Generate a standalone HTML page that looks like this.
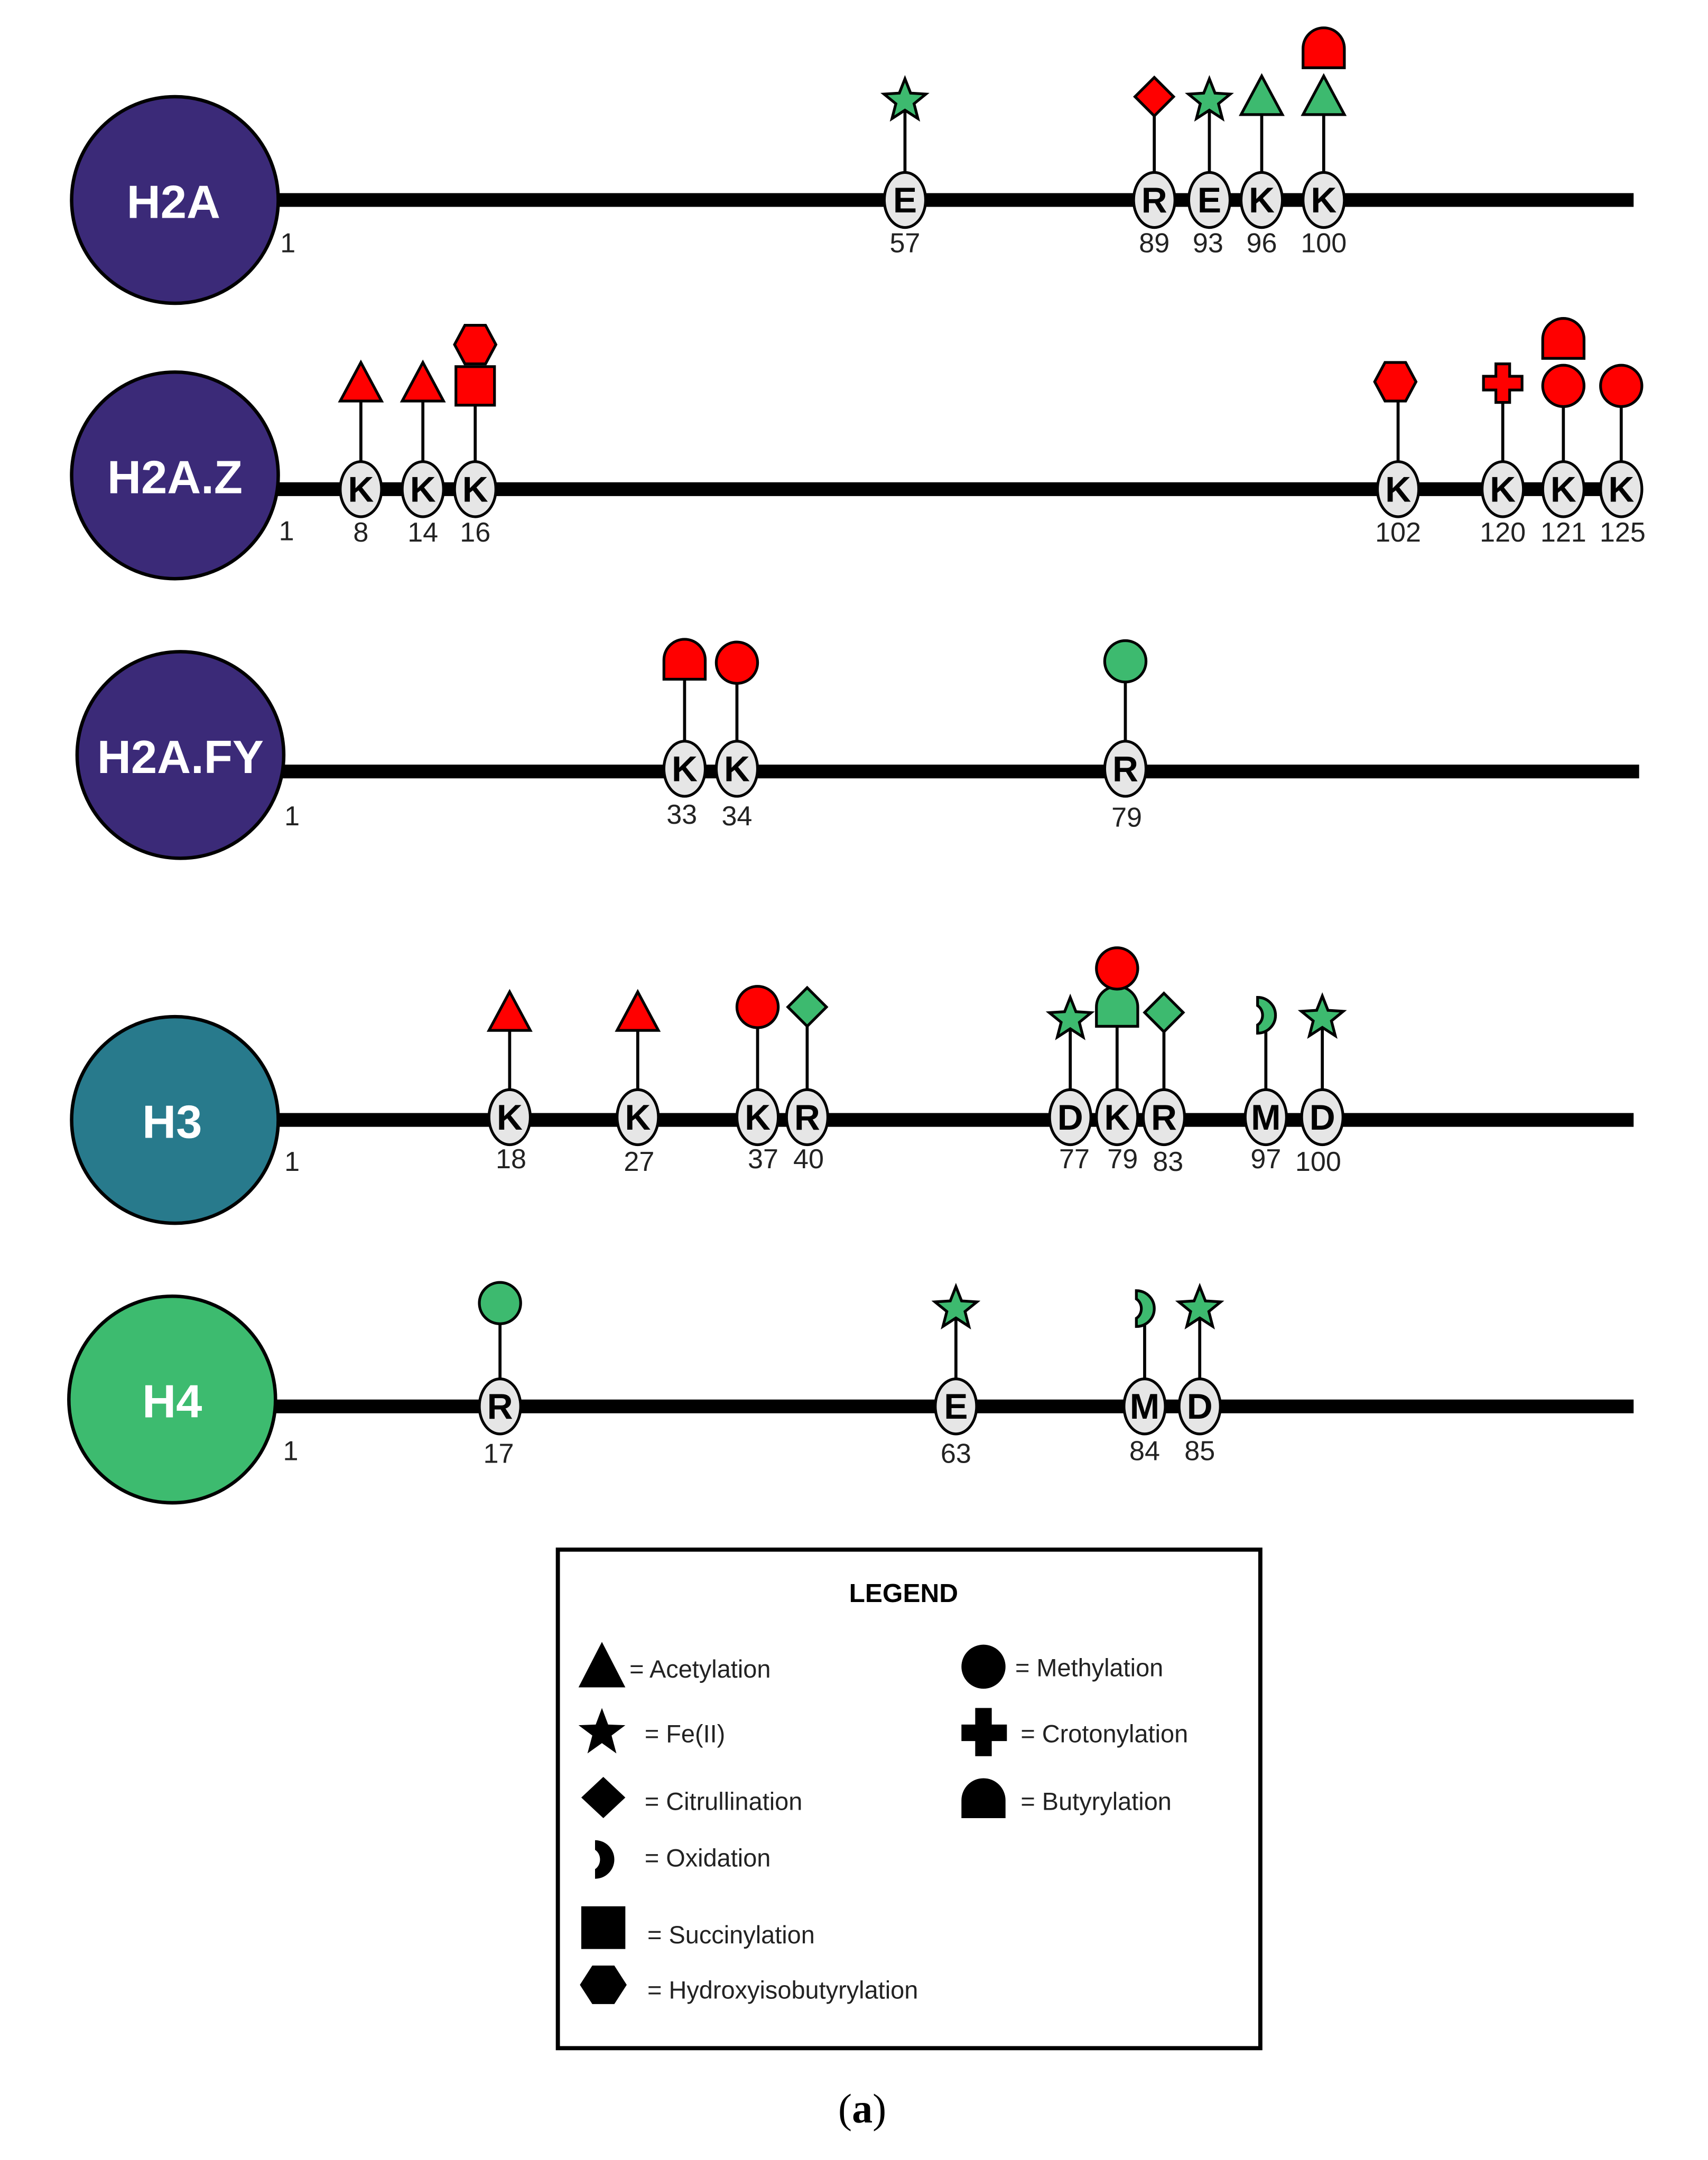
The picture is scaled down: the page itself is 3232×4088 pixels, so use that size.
<!DOCTYPE html>
<html><head><meta charset="utf-8"><style>
html,body{margin:0;padding:0;background:#fff;}
svg{display:block;}
text{font-family:"Liberation Sans","DejaVu Sans",sans-serif;}
</style></head><body>
<svg width="3232" height="4088" viewBox="0 0 1240 1568" xmlns="http://www.w3.org/2000/svg">
<defs>
<g id="tri"><polygon points="0,-15 15,13 -15,13" stroke="#000" stroke-width="2"/></g>
<g id="star"><polygon points="0,-16 4.1,-5.6 15.2,-4.9 6.6,2.1 9.4,12.9 0,6.8 -9.4,12.9 -6.6,2.1 -15.2,-4.9 -4.1,-5.6" stroke="#000" stroke-width="2"/></g>
<g id="circ"><circle r="15" stroke="#000" stroke-width="2"/></g>
<g id="dia"><polygon points="0,-14 14,0 0,14 -14,0" stroke="#000" stroke-width="2"/></g>
<g id="but"><path d="M-15,14 V0 A15,15 0 0 1 15,0 V14 Z" stroke="#000" stroke-width="2"/></g>
<g id="hex"><polygon points="-7.5,-14 7.5,-14 15,0 7.5,14 -7.5,14 -15,0" stroke="#000" stroke-width="2"/></g>
<g id="sq"><rect x="-14" y="-14" width="28" height="28" stroke="#000" stroke-width="2"/></g>
<g id="cross"><polygon points="-5,-14 5,-14 5,-5 14,-5 14,5 5,5 5,14 -5,14 -5,5 -14,5 -14,-5 -5,-5" stroke="#000" stroke-width="2"/></g>
<g id="oxi"><path d="M-6,-13 A13,13 0 0 1 -6,13 V7 A7,8 0 0 0 -6,-7 Z" stroke="#000" stroke-width="2"/></g>
</defs>
<g stroke="#000" stroke-width="10">
<line x1="195" y1="145" x2="1186" y2="145"/>
<line x1="195" y1="355" x2="1186" y2="355"/>
<line x1="200" y1="560" x2="1190" y2="560"/>
<line x1="195" y1="813" x2="1186" y2="813"/>
<line x1="195" y1="1021" x2="1186" y2="1021"/>
</g>
<g stroke="#000" stroke-width="2.5">
<circle cx="127" cy="145" r="75" fill="#3b2a78"/>
<circle cx="127" cy="345" r="75" fill="#3b2a78"/>
<circle cx="131" cy="548" r="75" fill="#3b2a78"/>
<circle cx="127" cy="813" r="75" fill="#287a8c"/>
<circle cx="125" cy="1016" r="75" fill="#3dbb6f"/>
</g>
<g fill="#fff" font-weight="bold" font-size="34" text-anchor="middle">
<text x="126" y="158">H2A</text>
<text x="127" y="358">H2A.Z</text>
<text x="131" y="561">H2A.FY</text>
<text x="125" y="826">H3</text>
<text x="125" y="1029">H4</text>
</g>
<g stroke="#000" stroke-width="2.2">
<line x1="657" y1="125" x2="657" y2="75"/>
<line x1="838" y1="125" x2="838" y2="72"/>
<line x1="878" y1="125" x2="878" y2="75"/>
<line x1="916" y1="125" x2="916" y2="75"/>
<line x1="961" y1="125" x2="961" y2="75"/>
<line x1="262" y1="335" x2="262" y2="285"/>
<line x1="307" y1="335" x2="307" y2="285"/>
<line x1="345" y1="335" x2="345" y2="285"/>
<line x1="1015" y1="335" x2="1015" y2="280"/>
<line x1="1091" y1="335" x2="1091" y2="280"/>
<line x1="1135" y1="335" x2="1135" y2="282"/>
<line x1="1177" y1="335" x2="1177" y2="282"/>
<line x1="497" y1="540" x2="497" y2="490"/>
<line x1="535" y1="540" x2="535" y2="485"/>
<line x1="817" y1="540" x2="817" y2="485"/>
<line x1="370" y1="793" x2="370" y2="740"/>
<line x1="463" y1="793" x2="463" y2="740"/>
<line x1="550" y1="793" x2="550" y2="735"/>
<line x1="586" y1="793" x2="586" y2="735"/>
<line x1="777" y1="793" x2="777" y2="742"/>
<line x1="811" y1="793" x2="811" y2="745"/>
<line x1="845" y1="793" x2="845" y2="740"/>
<line x1="919" y1="793" x2="919" y2="745"/>
<line x1="960" y1="793" x2="960" y2="742"/>
<line x1="363" y1="1001" x2="363" y2="950"/>
<line x1="694" y1="1001" x2="694" y2="952"/>
<line x1="831" y1="1001" x2="831" y2="952"/>
<line x1="871" y1="1001" x2="871" y2="952"/>
</g>
<g fill="#3dba6f">
<use href="#star" x="657" y="73"/>
<use href="#star" x="878" y="73"/>
<use href="#tri" x="916" y="70"/>
<use href="#tri" x="961" y="70"/>
<use href="#circ" x="817" y="480"/>
<use href="#dia" x="586" y="731"/>
<use href="#star" x="777" y="740"/>
<use href="#but" x="811" y="731"/>
<use href="#dia" x="845" y="735"/>
<use href="#oxi" x="919" y="737"/>
<use href="#star" x="960" y="739"/>
<use href="#circ" x="363" y="946"/>
<use href="#star" x="694" y="950"/>
<use href="#oxi" x="831" y="950"/>
<use href="#star" x="871" y="950"/>
</g>
<g fill="#ff0000">
<use href="#dia" x="838" y="70"/>
<use href="#but" x="961" y="35"/>
<use href="#tri" x="262" y="278"/>
<use href="#tri" x="307" y="278"/>
<use href="#sq" x="345" y="280"/>
<use href="#hex" x="345" y="250"/>
<use href="#hex" x="1013" y="277"/>
<use href="#cross" x="1091" y="278"/>
<use href="#circ" x="1135" y="280"/>
<use href="#but" x="1135" y="246"/>
<use href="#circ" x="1177" y="280"/>
<use href="#but" x="497" y="479"/>
<use href="#circ" x="535" y="481"/>
<use href="#tri" x="370" y="735"/>
<use href="#tri" x="463" y="735"/>
<use href="#circ" x="550" y="731"/>
<use href="#circ" x="811" y="703"/>
</g>
<g fill="#e6e6e6" stroke="#000" stroke-width="2">
<ellipse cx="657" cy="145" rx="15" ry="20"/>
<ellipse cx="838" cy="145" rx="15" ry="20"/>
<ellipse cx="878" cy="145" rx="15" ry="20"/>
<ellipse cx="916" cy="145" rx="15" ry="20"/>
<ellipse cx="961" cy="145" rx="15" ry="20"/>
<ellipse cx="262" cy="355" rx="15" ry="20"/>
<ellipse cx="307" cy="355" rx="15" ry="20"/>
<ellipse cx="345" cy="355" rx="15" ry="20"/>
<ellipse cx="1015" cy="355" rx="15" ry="20"/>
<ellipse cx="1091" cy="355" rx="15" ry="20"/>
<ellipse cx="1135" cy="355" rx="15" ry="20"/>
<ellipse cx="1177" cy="355" rx="15" ry="20"/>
<ellipse cx="497" cy="558" rx="15" ry="20"/>
<ellipse cx="535" cy="558" rx="15" ry="20"/>
<ellipse cx="817" cy="558" rx="15" ry="20"/>
<ellipse cx="370" cy="811" rx="15" ry="20"/>
<ellipse cx="463" cy="811" rx="15" ry="20"/>
<ellipse cx="550" cy="811" rx="15" ry="20"/>
<ellipse cx="586" cy="811" rx="15" ry="20"/>
<ellipse cx="777" cy="811" rx="15" ry="20"/>
<ellipse cx="811" cy="811" rx="15" ry="20"/>
<ellipse cx="845" cy="811" rx="15" ry="20"/>
<ellipse cx="919" cy="811" rx="15" ry="20"/>
<ellipse cx="960" cy="811" rx="15" ry="20"/>
<ellipse cx="363" cy="1021" rx="15" ry="20"/>
<ellipse cx="694" cy="1021" rx="15" ry="20"/>
<ellipse cx="831" cy="1021" rx="15" ry="20"/>
<ellipse cx="871" cy="1021" rx="15" ry="20"/>
</g>
<g font-weight="bold" font-size="26" text-anchor="middle">
<text x="657" y="154">E</text><text x="838" y="154">R</text><text x="878" y="154">E</text><text x="916" y="154">K</text><text x="961" y="154">K</text>
<text x="262" y="364">K</text><text x="307" y="364">K</text><text x="345" y="364">K</text><text x="1015" y="364">K</text><text x="1091" y="364">K</text><text x="1135" y="364">K</text><text x="1177" y="364">K</text>
<text x="497" y="567">K</text><text x="535" y="567">K</text><text x="817" y="567">R</text>
<text x="370" y="820">K</text><text x="463" y="820">K</text><text x="550" y="820">K</text><text x="586" y="820">R</text><text x="777" y="820">D</text><text x="811" y="820">K</text><text x="845" y="820">R</text><text x="919" y="820">M</text><text x="960" y="820">D</text>
<text x="363" y="1030">R</text><text x="694" y="1030">E</text><text x="831" y="1030">M</text><text x="871" y="1030">D</text>
</g>
<g font-size="20" text-anchor="middle" fill="#222">
<text x="209" y="183">1</text><text x="657" y="183">57</text><text x="838" y="183">89</text><text x="877" y="183">93</text><text x="916" y="183">96</text><text x="961" y="183">100</text>
<text x="208" y="392">1</text><text x="262" y="393">8</text><text x="307" y="393">14</text><text x="345" y="393">16</text><text x="1015" y="393">102</text><text x="1091" y="393">120</text><text x="1135" y="393">121</text><text x="1178" y="393">125</text>
<text x="212" y="599">1</text><text x="495" y="598">33</text><text x="535" y="599">34</text><text x="818" y="600">79</text>
<text x="212" y="850">1</text><text x="371" y="848">18</text><text x="464" y="850">27</text><text x="554" y="848">37</text><text x="587" y="848">40</text><text x="780" y="848">77</text><text x="815" y="848">79</text><text x="848" y="850">83</text><text x="919" y="848">97</text><text x="957" y="850">100</text>
<text x="211" y="1060">1</text><text x="362" y="1062">17</text><text x="694" y="1062">63</text><text x="831" y="1060">84</text><text x="871" y="1060">85</text>
</g>
<rect x="405" y="1125" width="510" height="362" fill="none" stroke="#000" stroke-width="3"/>
<text x="656" y="1163" font-size="19" font-weight="bold" text-anchor="middle">LEGEND</text>
<g fill="#000">
<polygon points="437,1192 454,1225 420,1225"/>
<polygon points="437,1240 441.5,1252 454,1252.5 444,1260 447.5,1273 437,1265.5 426.5,1273 430,1260 420,1252.5 432.5,1252"/>
<polygon points="438,1290 454,1305 438,1320 422,1305"/>
<path d="M432,1336 A14,14 0 0 1 432,1364 V1357 A7,8 0 0 0 432,1343 Z"/>
<rect x="422" y="1384" width="32" height="31"/>
<polygon points="430,1427 446,1427 455,1441 446,1455 430,1455 421,1441"/>
<circle cx="714" cy="1210" r="16"/>
<polygon points="708,1240 720,1240 720,1252 731,1252 731,1264 720,1264 720,1275 708,1275 708,1264 698,1264 698,1252 708,1252"/>
<path d="M698,1320 V1307 A16,16 0 0 1 730,1307 V1320 Z"/>
</g>
<g font-size="18" fill="#222">
<text x="457" y="1218">= Acetylation</text>
<text x="468" y="1265">= Fe(II)</text>
<text x="468" y="1314">= Citrullination</text>
<text x="468" y="1355">= Oxidation</text>
<text x="470" y="1411">= Succinylation</text>
<text x="470" y="1451">= Hydroxyisobutyrylation</text>
<text x="737" y="1217">= Methylation</text>
<text x="741" y="1265">= Crotonylation</text>
<text x="741" y="1314">= Butyrylation</text>
</g>
<text x="626" y="1541" font-size="30" text-anchor="middle" style="font-family:'Liberation Serif',serif">(<tspan font-weight="bold">a</tspan>)</text>
</svg>
</body></html>
